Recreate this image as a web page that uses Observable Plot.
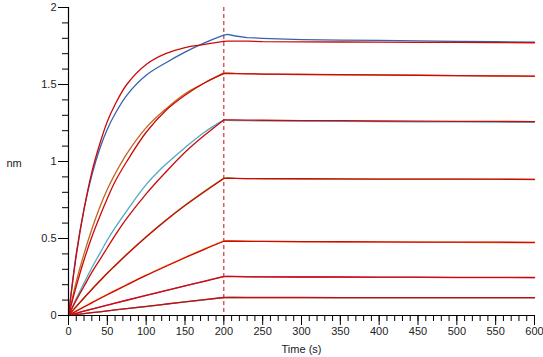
<!DOCTYPE html>
<html>
<head>
<meta charset="utf-8">
<script src="https://cdn.jsdelivr.net/npm/d3@7"></script>
<script src="https://cdn.jsdelivr.net/npm/@observablehq/plot@0.6"></script>
<style>
  html, body { margin: 0; padding: 0; background: #fff; }
  #chart svg { display: block; }
</style>
</head>
<body>
<div id="chart"></div>
<script>
// Time points (s): association 0–200, dissociation 200–600
const times = [0,10,20,30,40,50,60,75,100,125,150,175,200, 205,215,230,250,300,350,400,450,500,550,600];

// Measured response (nm)
const data1 = [0,0.40,0.69,0.91,1.08,1.21,1.31,1.43,1.56,1.64,1.71,1.77,1.82, 1.825,1.815,1.805,1.80,1.792,1.788,1.786,1.783,1.78,1.778,1.775];
const data2 = [0,0.22,0.40,0.56,0.70,0.82,0.92,1.05,1.22,1.34,1.44,1.51,1.575, 1.575,1.572,1.57,1.568,1.565,1.563,1.561,1.559,1.557,1.555,1.553];
const data3 = [0,0.11,0.21,0.31,0.40,0.49,0.57,0.68,0.85,0.98,1.09,1.19,1.27, 1.268,1.266,1.265,1.264,1.262,1.26,1.259,1.258,1.257,1.256,1.255];
const data4 = [0,0.06,0.115,0.17,0.224,0.276,0.325,0.398,0.512,0.618,0.716,0.806,0.892, 0.895,0.891,0.889,0.888,0.887,0.886,0.886,0.885,0.885,0.884,0.883];
const data5 = [0,0.03,0.058,0.085,0.112,0.138,0.163,0.201,0.263,0.321,0.378,0.433,0.485, 0.486,0.484,0.482,0.481,0.479,0.478,0.477,0.476,0.475,0.474,0.472];
const data6 = [0,0.015,0.029,0.042,0.055,0.068,0.081,0.1,0.131,0.162,0.193,0.223,0.254, 0.255,0.254,0.252,0.251,0.250,0.249,0.248,0.247,0.246,0.246,0.245];
const data7 = [0,0.006,0.012,0.018,0.024,0.03,0.036,0.045,0.058,0.073,0.088,0.102,0.116, 0.118,0.117,0.116,0.116,0.116,0.115,0.115,0.115,0.114,0.114,0.114];

// Fitted curves (nm)
const fit1 = [0,0.39,0.69,0.93,1.11,1.26,1.37,1.50,1.63,1.70,1.74,1.76,1.78, 1.782,1.782,1.782,1.778,1.777,1.776,1.775,1.774,1.773,1.772,1.771];
const fit2 = [0,0.19,0.36,0.51,0.64,0.76,0.87,1.00,1.19,1.33,1.43,1.51,1.57, 1.57,1.57,1.569,1.568,1.566,1.564,1.562,1.560,1.558,1.556,1.555];
const fit3 = [0,0.10,0.19,0.28,0.36,0.44,0.52,0.63,0.79,0.93,1.06,1.17,1.27, 1.27,1.27,1.269,1.268,1.266,1.265,1.263,1.262,1.261,1.26,1.259];
const fit4 = [0,0.058,0.114,0.169,0.222,0.274,0.323,0.396,0.51,0.616,0.714,0.804,0.89, 0.89,0.89,0.889,0.889,0.888,0.887,0.886,0.886,0.885,0.885,0.884];
const fit5 = [0,0.028,0.055,0.082,0.109,0.135,0.16,0.198,0.26,0.318,0.375,0.43,0.482, 0.482,0.482,0.481,0.481,0.480,0.479,0.478,0.477,0.477,0.476,0.475];
const fit6 = [0,0.014,0.028,0.041,0.054,0.067,0.08,0.099,0.13,0.161,0.192,0.222,0.252, 0.252,0.252,0.251,0.251,0.250,0.250,0.249,0.249,0.248,0.248,0.247];
const fit7 = [0,0.006,0.012,0.018,0.024,0.03,0.036,0.045,0.059,0.074,0.089,0.103,0.117, 0.117,0.117,0.117,0.117,0.117,0.116,0.116,0.116,0.116,0.116,0.116];

const seriesNames = ["1","2","3","4","5","6","7"];
const seriesColors = ["#3563ad","#c2661f","#4fa9c4","#7f9a2c","#ff8a1c","#c63c8a","#3f8c8c"];
const switchTime = 200;

// Tick values
const yMajor = [0, 0.5, 1, 1.5, 2];
const yMinor = d3.range(0, 21).map(i => i / 10);
const xMajor = d3.range(0, 601, 50);
const xMinor = d3.range(0, 601, 10);

const dataSets = [data1,data2,data3,data4,data5,data6,data7];
const fitSets = [fit1,fit2,fit3,fit4,fit5,fit6,fit7];

function rows(sets, phase) {
  const out = [];
  sets.forEach((arr, s) => {
    times.forEach((t, i) => {
      if (phase === "assoc" ? t <= switchTime : t >= switchTime)
        out.push({t, v: arr[i], series: seriesNames[s]});
    });
  });
  return out;
}

const dataAssoc = rows(dataSets, "assoc");
const dataDiss = rows(dataSets, "diss");
const fitAssoc = rows(fitSets, "assoc");
const fitDiss = rows(fitSets, "diss");

const red = "#cc0a0a";
const font = "'Liberation Sans', Arial, sans-serif";

const chart = Plot.plot({
  width: 543,
  height: 357,
  marginLeft: 68,
  marginRight: 9,
  marginTop: 7,
  marginBottom: 42,
  style: {fontFamily: font, fontSize: "11px", color: "#222", background: "#fff"},
  x: {domain: [0, 600], label: null},
  y: {domain: [0, 2], label: null},
  color: {type: "ordinal", domain: seriesNames, range: seriesColors},
  marks: [
    Plot.ruleX([switchTime], {stroke: red, strokeWidth: 1, strokeDasharray: "4,3"}),
    Plot.line(dataAssoc, {x: "t", y: "v", z: "series", stroke: "series", strokeWidth: 1.3, curve: "catmull-rom"}),
    Plot.line(dataDiss, {x: "t", y: "v", z: "series", stroke: "series", strokeWidth: 1.3}),
    Plot.line(fitAssoc, {x: "t", y: "v", z: "series", stroke: red, strokeWidth: 1.3, curve: "catmull-rom"}),
    Plot.line(fitDiss, {x: "t", y: "v", z: "series", stroke: red, strokeWidth: 1.3}),
    Plot.axisY({ticks: yMinor, tickSize: 6, tickFormat: () => "", label: null, stroke: "#000"}),
    Plot.axisY({ticks: yMajor, tickSize: 10, tickPadding: 2, tickFormat: d => String(d), label: null, stroke: "#000"}),
    Plot.axisX({ticks: xMinor, tickSize: 6, tickFormat: () => "", label: null, stroke: "#000"}),
    Plot.axisX({ticks: xMajor, tickSize: 10, tickPadding: 2, tickFormat: d => String(d), label: null, stroke: "#000"}),
    Plot.ruleX([0], {stroke: "#000", strokeWidth: 1.2}),
    Plot.ruleY([0], {stroke: "#000", strokeWidth: 1.2}),
    Plot.text(["nm"], {frameAnchor: "left", dx: -62, textAnchor: "start", dy: 2, fill: "#222"}),
    Plot.text(["Time (s)"], {frameAnchor: "bottom", dy: 37, fill: "#222"})
  ]
});

document.getElementById("chart").appendChild(chart);
</script>
</body>
</html>
